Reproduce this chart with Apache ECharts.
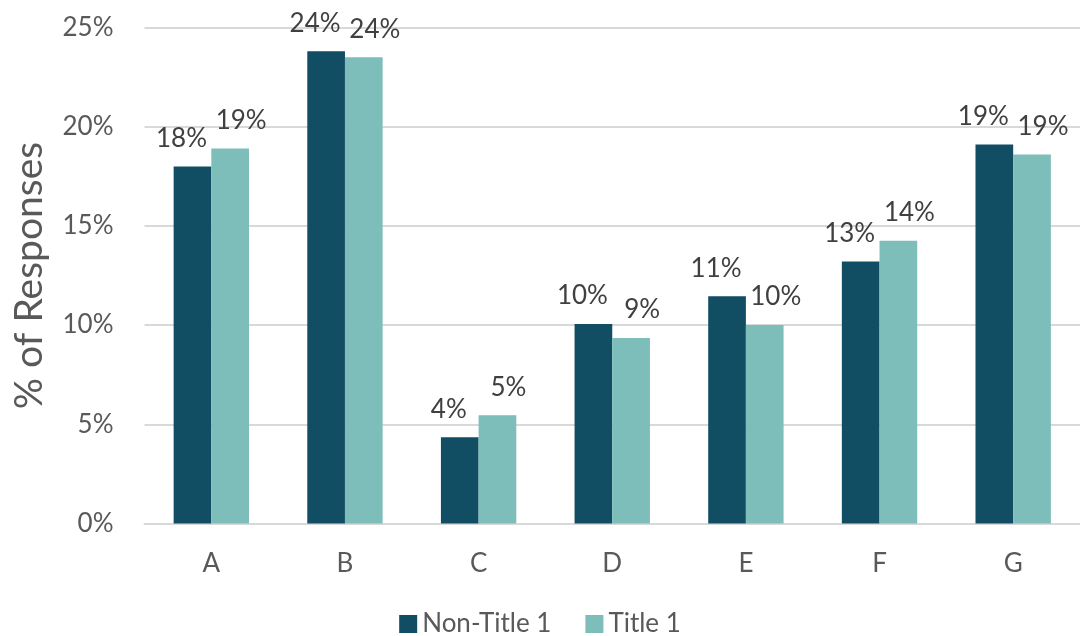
<!DOCTYPE html>
<html>
<head>
<meta charset="utf-8">
<script src="https://cdn.jsdelivr.net/npm/echarts@6/dist/echarts.min.js"></script>
<style>html,body{margin:0;padding:0;background:#fff}#c{width:1080px;height:636px}</style>
</head>
<body>
<div id="c"></div>
<script>
const categories = ['A', 'B', 'C', 'D', 'E', 'F', 'G'];
const nonTitle1 = [18.0, 23.8, 4.35, 10.05, 11.45, 13.2, 19.1];
const title1 = [18.9, 23.5, 5.45, 9.35, 10.0, 14.25, 18.6];
const yTicks = [0, 5, 10, 15, 20, 25];
const seriesNames = ['Non-Title 1', 'Title 1'];

const FONT = 'Lato';
const chart = echarts.init(document.getElementById('c'));
const lbl = (dx) => ({
  show: true, position: 'top', distance: 15, offset: [dx, 0],
  fontFamily: FONT, fontSize: 26, color: '#404040',
  formatter: p => Math.round(p.value) + '%'
});
chart.setOption({
  animation: false,
  grid: { left: 144.5, right: -2, top: 27.5, bottom: 112.5, containLabel: false },
  legend: {
    top: 606, left: 'center', itemWidth: 18, itemHeight: 18, itemGap: 34,
    icon: 'rect',
    textStyle: { fontFamily: FONT, fontSize: 26, color: '#595959' },
    data: seriesNames
  },
  xAxis: {
    type: 'category', data: categories,
    axisLine: { lineStyle: { color: '#d9d9d9', width: 2 } },
    axisTick: { show: false },
    axisLabel: { fontFamily: FONT, fontSize: 26, color: '#595959', margin: 27 }
  },
  yAxis: {
    type: 'value', min: yTicks[0], max: yTicks[yTicks.length - 1], interval: 5,
    name: '% of Responses', nameLocation: 'middle', nameGap: 96, nameRotate: 90,
    nameTextStyle: { fontFamily: FONT, fontSize: 39, color: '#595959' },
    axisLine: { show: false }, axisTick: { show: false },
    axisLabel: { fontFamily: FONT, fontSize: 26, color: '#595959', margin: 31, formatter: '{value}%' },
    splitLine: { lineStyle: { color: '#d9d9d9', width: 2 } }
  },
  series: [
    { name: seriesNames[0], type: 'bar', data: nonTitle1, barGap: '0%', barCategoryGap: '43.6%',
      itemStyle: { color: '#114e64' }, label: lbl(-11) },
    { name: seriesNames[1], type: 'bar', data: title1, barGap: '0%', barCategoryGap: '43.6%',
      itemStyle: { color: '#7dbdba' }, label: lbl(11) }
  ]
});
</script>
</body>
</html>
